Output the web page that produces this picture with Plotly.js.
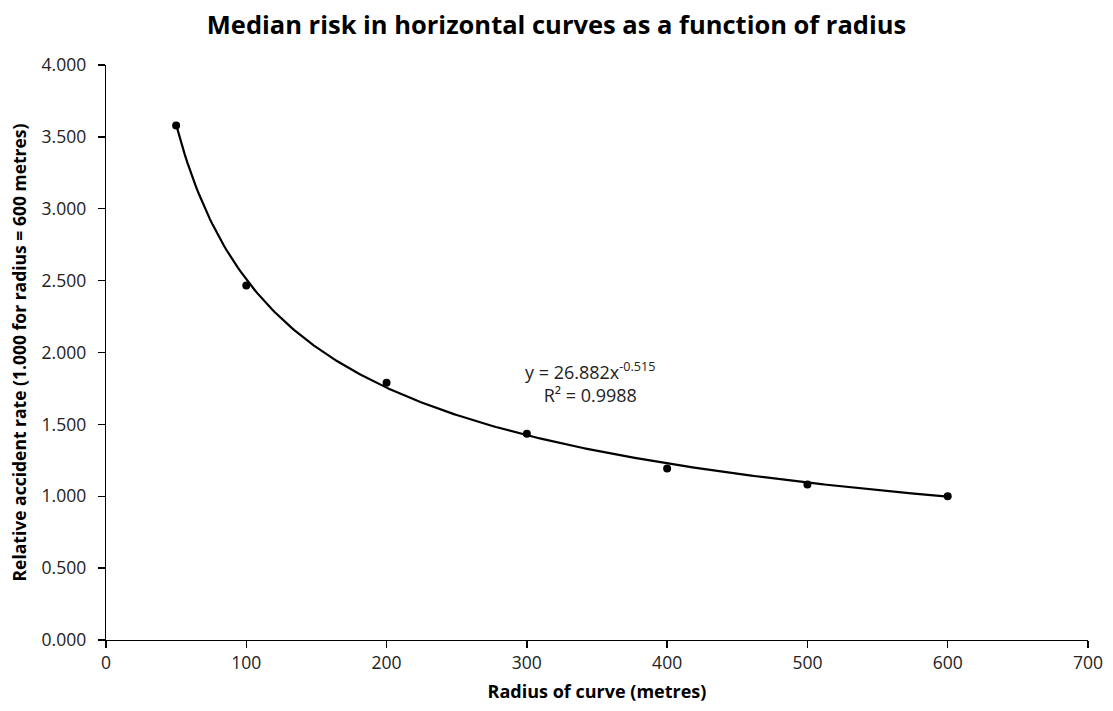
<!DOCTYPE html>
<html>
<head>
<meta charset="utf-8">
<script src="https://cdn.plot.ly/plotly-3.0.1.min.js"></script>
<style>html,body{margin:0;padding:0;background:#fff;}#chart{width:1113px;height:711px;}</style>
</head>
<body>
<div id="chart"></div>
<script>
const radius = [50, 100, 200, 300, 400, 500, 600];
const relativeRate = [3.579, 2.466, 1.790, 1.435, 1.193, 1.082, 1.000];
// Power trendline coefficients as printed on the chart: y = a * x^b
const trendCoef = [26.882, -0.515];
const rSquared = "0.9988";

// Trendline curve evaluated from printed coefficients
const trendX = [];
const trendY = [];
for (let x = radius[0]; x <= radius[radius.length - 1]; x += 2) {
  trendX.push(x);
  trendY.push(trendCoef[0] * Math.pow(x, trendCoef[1]));
}

const font = "Open Sans, Liberation Sans, sans-serif";

const data = [
  {x: trendX, y: trendY, mode: 'lines', line: {color: '#000', width: 2.2}, hoverinfo: 'skip', showlegend: false},
  {x: radius, y: relativeRate, mode: 'markers', marker: {color: '#000', size: 8}, showlegend: false}
];

const layout = {
  width: 1113, height: 711,
  margin: {l: 106, r: 25, t: 65, b: 71},
  paper_bgcolor: '#fff', plot_bgcolor: '#fff',
  title: {text: '<b>Median risk in horizontal curves as a function of radius</b>', x: 0.5, xanchor: 'center', y: 0.965, yanchor: 'middle',
          font: {family: font, size: 25.5, color: '#000'}},
  xaxis: {
    range: [0, 700], dtick: 100, tick0: 0, showgrid: false, zeroline: false,
    showline: true, linecolor: '#000', linewidth: 1.3,
    ticks: 'outside', ticklen: 7, tickcolor: '#000', tickwidth: 1.3,
    tickfont: {family: font, size: 17.5, color: '#222'},
    title: {text: '<b>Radius of curve (metres)</b>', font: {family: font, size: 18, color: '#000'}, standoff: 12}
  },
  yaxis: {
    range: [0, 4], dtick: 0.5, tick0: 0, tickformat: '.3f', showgrid: false, zeroline: false,
    showline: true, linecolor: '#000', linewidth: 1.3,
    ticks: 'outside', ticklen: 7, tickcolor: '#000', tickwidth: 1.3,
    ticklabelstandoff: 8,
    tickfont: {family: font, size: 17.5, color: '#222'},
    title: {text: '<b>Relative accident rate (1.000 for radius = 600 metres)</b>', font: {family: font, size: 17.5, color: '#000'}, standoff: 10}
  },
  annotations: [{
    x: 345, y: 1.79, xref: 'x', yref: 'y', showarrow: false, align: 'center',
    text: 'y = ' + trendCoef[0].toFixed(3) + 'x<sup>' + trendCoef[1] + '</sup><br>R² = ' + rSquared,
    font: {family: font, size: 18, color: '#222'}
  }]
};

Plotly.newPlot('chart', data, layout, {displayModeBar: false, staticPlot: true});
</script>
</body>
</html>
